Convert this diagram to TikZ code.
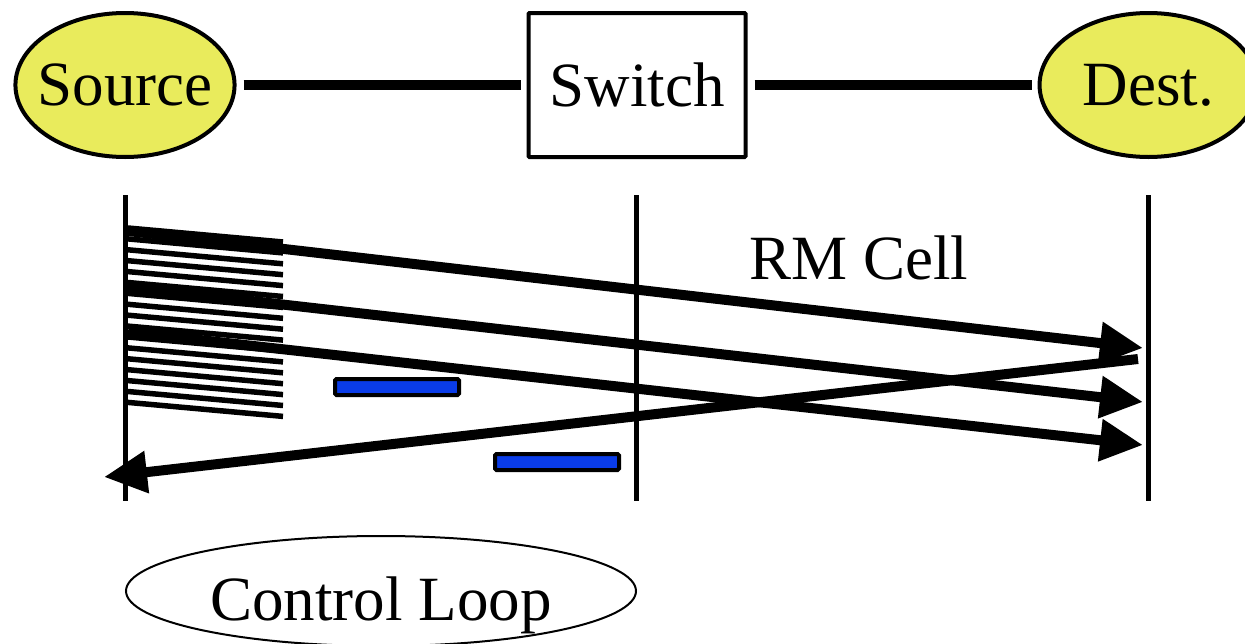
\documentclass[tikz,border=0pt]{standalone}
\usepackage{fontspec}
\setmainfont{Liberation Serif}
\usetikzlibrary{positioning,arrows.meta,shapes.geometric}
\definecolor{hostyellow}{HTML}{E9EB5C}
\definecolor{cellblue}{HTML}{0A3CE8}
\tikzset{
  hostnode/.style={
    ellipse, draw=black, fill=hostyellow, line width=4pt,
    minimum width=218pt, minimum height=144pt, inner sep=-10pt,
    font=\fontsize{63}{70}\selectfont
  },
  swnode/.style={
    rectangle, draw=black, line width=4pt, rounded corners=1pt,
    minimum width=217pt, minimum height=144pt, inner sep=0pt,
    font=\fontsize{63}{70}\selectfont
  },
  loopnode/.style={
    ellipse, draw=black, line width=2pt,
    minimum width=510pt, minimum height=110pt, inner sep=-10pt,
    text height=58pt, text depth=0pt,
    font=\fontsize{63}{70}\selectfont
  },
  celllabel/.style={
    font=\fontsize{63}{70}\selectfont, inner sep=0pt
  },
  link/.style={
    line width=10pt, shorten <=7pt, shorten >=6pt
  },
  timeline/.style={
    line width=5pt
  },
  hatchline/.style={
    line width=5.5pt
  },
  cellarr/.style={
    -{Triangle[length=43pt,width=40pt]}, line width=10pt
  },
  rmcell/.style={
    draw=black, fill=cellblue, line width=4pt, rounded corners=1.5pt
  }
}

\begin{document}
\begin{tikzpicture}[x=1pt, y=-1pt, node distance=290pt]
\useasboundingbox (0,0) rectangle (1245,643);

\node[hostnode] (src) at (125,85) {Source};
\node[swnode, right=290pt of src] (sw) {Switch};
\node[hostnode, right=290pt of sw] (dst) {Dest.};

\draw[link] (src) -- (sw);
\draw[link] (sw) -- (dst);

\coordinate (srcTop) at (125,195);
\coordinate (srcBot) at (125,501);
\coordinate (swTop) at (636,195);
\coordinate (swBot) at (636,501);
\coordinate (dstTop) at (1148,195);
\coordinate (dstBot) at (1148,501);
\draw[timeline] (srcTop) -- (srcBot);
\draw[timeline] (swTop) -- (swBot);
\draw[timeline] (dstTop) -- (dstBot);

\foreach \i in {0,...,16} {
  \draw[hatchline] (128,228+10.9*\i) -- (283,242+10.9*\i);
}

\draw[rmcell] (335,379) rectangle (459,395);
\draw[rmcell] (495,454) rectangle (619,470);

\coordinate (out1) at (128,231);
\coordinate (out2) at (128,287);
\coordinate (out3) at (128,332);
\coordinate (in1) at (1143,348);
\coordinate (in2) at (1143,402);
\coordinate (in3) at (1143,445);
\coordinate (back) at (1138,359);
\coordinate (home) at (104,477);

\draw[cellarr] (out1) -- (in1);
\draw[cellarr] (out2) -- (in2);
\draw[cellarr] (out3) -- (in3);
\draw[cellarr] (back) -- (home);

\node[celllabel, anchor=base] (rm) at (859,279) {RM Cell};
\node[loopnode] (loop) at (381,591) {Control Loop};
\end{tikzpicture}
\end{document}
